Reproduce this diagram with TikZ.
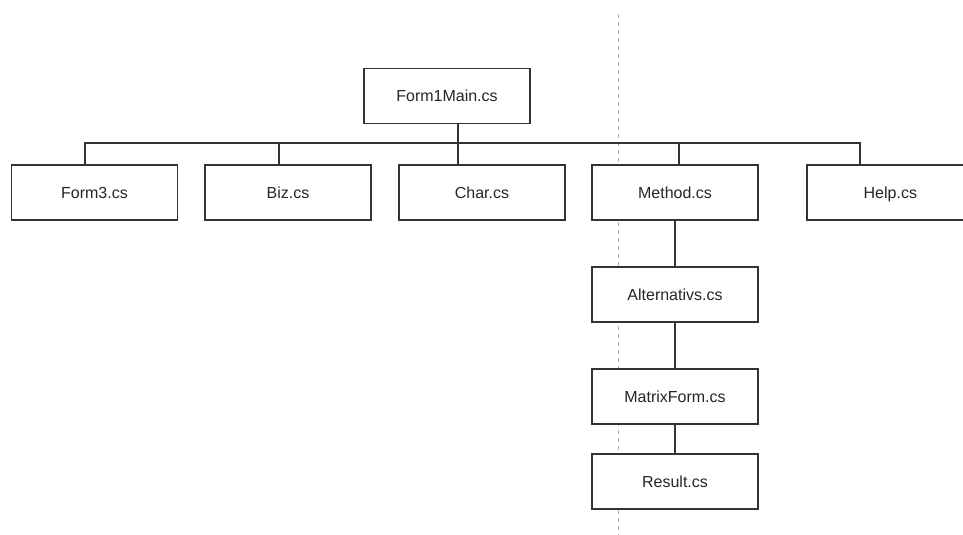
\documentclass[tikz,border=0pt]{standalone}
\usepackage{fontspec}
\setmainfont{Liberation Sans}
\begin{document}
\begin{tikzpicture}[x=0.75pt,y=-0.75pt,
  box/.style={draw=black!80,line width=1pt,fill=white,minimum width=124.5pt,minimum height=41.25pt,inner sep=0pt,text height=8.6pt,text depth=0pt,font=\fontsize{12}{14}\selectfont,text=black!85},
  link/.style={draw=black!80,line width=1pt},
  guide/.style={draw=black!30,line width=0.75pt,dash pattern=on 3pt off 3pt}]
\useasboundingbox (0,0) rectangle (963,535);
\clip (0,0) rectangle (963,535);
\coordinate (gtop) at (618.5,14);
\coordinate (gbot) at (618.5,535);
\draw[guide] (gtop) -- (gbot);
\node[box] (main) at (447,96) {Form1Main.cs};
\node[box] (form3) at (94.5,192.5) {Form3.cs};
\node[box] (biz) at (288,192.5) {Biz.cs};
\node[box] (char) at (482,192.5) {Char.cs};
\node[box] (method) at (675,192.5) {Method.cs};
\node[box,minimum width=135pt] (help) at (897,192.5) {\hspace*{-10pt}Help.cs};
\node[box] (alt) at (675,294.5) {Alternativs.cs};
\node[box] (matrix) at (675,396.5) {MatrixForm.cs};
\node[box] (result) at (675,481.5) {Result.cs};
\coordinate (bus) at (458,143);
\draw[link] ([xshift=8.25pt]main.south) -- (bus);
\draw[link] ([xshift=-7.125pt]form3.north) |- (bus);
\draw[link] ([xshift=-6.75pt]biz.north) |- (bus);
\draw[link] ([xshift=-18pt]char.north) |- (bus);
\draw[link] ([xshift=3pt]method.north) |- (bus);
\draw[link] ([xshift=-27.75pt]help.north) |- (bus);
\draw[link] (method) -- (alt);
\draw[link] (alt) -- (matrix);
\draw[link] (matrix) -- (result);
\end{tikzpicture}
\end{document}
